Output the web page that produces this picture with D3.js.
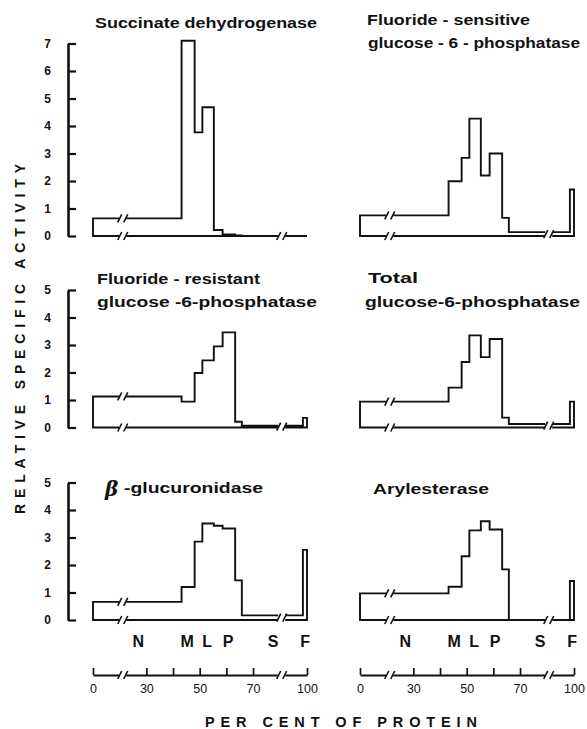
<!DOCTYPE html>
<html>
<head>
<meta charset="utf-8">
<script src="https://cdn.jsdelivr.net/npm/d3@7"></script>
<style>
  body { margin: 0; background: #fff; }
  svg { display: block; }
</style>
</head>
<body>
<svg id="chart" width="587" height="729"></svg>
<script>
'use strict';

// fractions and their boundaries, in per cent of protein
var fractions = ['N', 'M1', 'M2', 'L1', 'L2', 'P1', 'P2', 'S', 'F'];
var fractionEdges = [0, 43.2, 48.1, 51.0, 55.3, 58.6, 63.3, 65.8, 98.5, 100];

// relative specific activity of each fraction
var succinateDehydrogenase = [0.64, 7.1, 3.77, 4.68, 0.22, 0.06, 0.02, 0, 0];
var fluorideSensitive = [0.75, 1.99, 2.84, 4.27, 2.2, 3.0, 0.66, 0.14, 1.69];
var fluorideResistant = [1.13, 0.94, 1.98, 2.44, 2.95, 3.46, 0.21, 0.07, 0.35];
var totalPhosphatase = [0.94, 1.45, 2.38, 3.35, 2.56, 3.22, 0.36, 0.13, 0.94];
var glucuronidase = [0.66, 1.2, 2.85, 3.51, 3.43, 3.33, 1.44, 0.17, 2.55];
var arylesterase = [0.97, 1.21, 2.32, 3.26, 3.59, 3.29, 1.84, 0, 1.42];

var fractionLabels = ['N', 'M', 'L', 'P', 'S', 'F'];
var fractionLabelAt = [27, 45.3, 52.8, 60.6, 77.5, 99.3];
var proteinTicks = [0, 30, 40, 50, 60, 70, 100];
var proteinTickLabels = [0, 30, 50, 70, 100];
var activityTicksTop = [0, 1, 2, 3, 4, 5, 6, 7];
var activityTicks = [0, 1, 2, 3, 4, 5];

var svg = d3.select('#chart');
var ink = '#111';
var colX = [93, 360];
var rowZero = [236, 427.5, 620];
var unitPx = 27.5;
var axisX = 68;
var titleFont = '"Liberation Sans", Arial, sans-serif';

// the protein axis is cut between 10-20 and 80-90 per cent
var xs = d3.scaleLinear()
  .domain([0, 10, 20, 80, 90, 100])
  .range([0, 26.7, 26.7, 186.7, 186.7, 214]);

var panels = [
  { values: succinateDehydrogenase, row: 0, col: 0, yMax: 7, ticks: activityTicksTop,
    titles: [{ text: 'Succinate dehydrogenase', x: 95, y: 23, len: 222 }] },
  { values: fluorideSensitive, row: 0, col: 1, yMax: 7,
    titles: [{ text: 'Fluoride - sensitive', x: 367, y: 20, len: 163 },
             { text: 'glucose - 6 - phosphatase', x: 368, y: 43, len: 212 }] },
  { values: fluorideResistant, row: 1, col: 0, yMax: 5, ticks: activityTicks,
    titles: [{ text: 'Fluoride - resistant', x: 97, y: 279, len: 163 },
             { text: 'glucose -6-phosphatase', x: 97, y: 302, len: 220 }] },
  { values: totalPhosphatase, row: 1, col: 1, yMax: 5,
    titles: [{ text: 'Total', x: 368, y: 278, len: 50 },
             { text: 'glucose-6-phosphatase', x: 365, y: 302, len: 215 }] },
  { values: glucuronidase, row: 2, col: 0, yMax: 5, ticks: activityTicks, beta: true,
    titles: [{ text: '-glucuronidase', x: 124, y: 488, len: 139 }] },
  { values: arylesterase, row: 2, col: 1, yMax: 5,
    titles: [{ text: 'Arylesterase', x: 373, y: 489, len: 116 }] }
];

function breakMark(g, cx, y) {
  g.append('rect').attr('x', cx - 3.5).attr('y', y - 4).attr('width', 7).attr('height', 8)
    .attr('fill', '#fff');
  [-3, 3].forEach(function (dx) {
    g.append('line')
      .attr('x1', cx + dx - 2).attr('y1', y + 4)
      .attr('x2', cx + dx + 2).attr('y2', y - 4)
      .attr('stroke', ink).attr('stroke-width', 1.6);
  });
}

panels.forEach(function (p) {
  var ys = d3.scaleLinear().domain([0, p.yMax])
    .range([rowZero[p.row], rowZero[p.row] - p.yMax * unitPx]);
  var g = svg.append('g').attr('transform', 'translate(' + colX[p.col] + ',0)');

  // outline of the histogram, closed along the zero line
  var pts = [[0, 0]];
  p.values.forEach(function (v, i) {
    pts.push([fractionEdges[i], v], [fractionEdges[i + 1], v]);
  });
  pts.push([100, 0]);
  var line = d3.line().x(function (d) { return xs(d[0]); }).y(function (d) { return ys(d[1]); });
  g.append('path').attr('d', line(pts) + 'Z')
    .attr('fill', 'none').attr('stroke', ink).attr('stroke-width', 1.9)
    .attr('stroke-linejoin', 'miter');

  var b1 = xs(15), b2 = xs(85);
  breakMark(g, b1 + 3, ys(0));
  breakMark(g, b1 + 3, ys(p.values[0]));
  var sIdx = fractions.indexOf('S');
  var sy = ys(p.values[sIdx]);
  if (ys(0) - sy > 6) {
    breakMark(g, b2 + 2, ys(0));
    breakMark(g, b2 + 2, sy);
  } else {
    breakMark(g, b2 + 2, (ys(0) + sy) / 2);
  }

  // titles
  p.titles.forEach(function (t) {
    svg.append('text')
      .attr('x', t.x).attr('y', t.y).attr('dy', '0.36em')
      .attr('textLength', t.len).attr('lengthAdjust', 'spacingAndGlyphs')
      .attr('font-family', titleFont).attr('font-weight', 'bold').attr('font-size', 14)
      .attr('fill', ink).text(t.text);
  });
  if (p.beta) {
    svg.append('text')
      .attr('x', 105).attr('y', 489).attr('dy', '0.36em')
      .attr('font-family', '"DejaVu Serif", serif').attr('font-style', 'italic')
      .attr('font-weight', 'bold').attr('font-size', 20).attr('fill', ink).text('β');
  }

  // activity axis on the left column only
  if (p.ticks) {
    var ax = svg.append('g').attr('transform', 'translate(' + axisX + ',0)')
      .call(d3.axisLeft(ys).tickValues(p.ticks).tickFormat(d3.format('d'))
        .tickSizeInner(-8).tickSizeOuter(0).tickPadding(17));
    ax.select('.domain').attr('stroke', ink).attr('stroke-width', 2.6);
    ax.selectAll('.tick line').attr('stroke', ink).attr('stroke-width', 2.2);
    ax.selectAll('.tick text').attr('fill', ink)
      .attr('font-family', titleFont).attr('font-weight', 'bold').attr('font-size', 12);
  }

  // fraction letters and protein axis under the bottom row
  if (p.row === 2) {
    fractionLabels.forEach(function (f, i) {
      g.append('text')
        .attr('x', xs(fractionLabelAt[i])).attr('y', 641).attr('dy', '0.36em')
        .attr('text-anchor', 'middle')
        .attr('font-family', titleFont).attr('font-weight', 'bold').attr('font-size', 16)
        .attr('fill', ink).text(f);
    });
    var xa = g.append('g').attr('transform', 'translate(0,675)')
      .call(d3.axisBottom(xs).tickValues(proteinTicks)
        .tickFormat(function (d) { return proteinTickLabels.indexOf(d) >= 0 ? d : ''; })
        .tickSizeInner(-7).tickSizeOuter(0).tickPadding(9));
    xa.select('.domain').attr('stroke', ink).attr('stroke-width', 1.9);
    xa.selectAll('.tick line').attr('stroke', ink).attr('stroke-width', 1.7);
    xa.selectAll('.tick text').attr('fill', ink)
      .attr('font-family', titleFont).attr('font-size', 12.5);
    breakMark(g, b1 + 3, 675);
    breakMark(g, b2 + 2, 675);
  }
});

// axis titles
svg.append('text')
  .attr('transform', 'translate(20,339) rotate(-90)')
  .attr('text-anchor', 'middle').attr('dy', '0.36em')
  .attr('textLength', 350).attr('lengthAdjust', 'spacing')
  .attr('font-family', titleFont).attr('font-weight', 'bold').attr('font-size', 14)
  .attr('fill', ink)
  .text('RELATIVE   SPECIFIC   ACTIVITY');

svg.append('text')
  .attr('x', 341).attr('y', 722).attr('dy', '0.36em')
  .attr('text-anchor', 'middle')
  .attr('textLength', 272).attr('lengthAdjust', 'spacing')
  .attr('font-family', titleFont).attr('font-weight', 'bold').attr('font-size', 14.5)
  .attr('fill', ink)
  .text('PER   CENT   OF   PROTEIN');
</script>
</body>
</html>
